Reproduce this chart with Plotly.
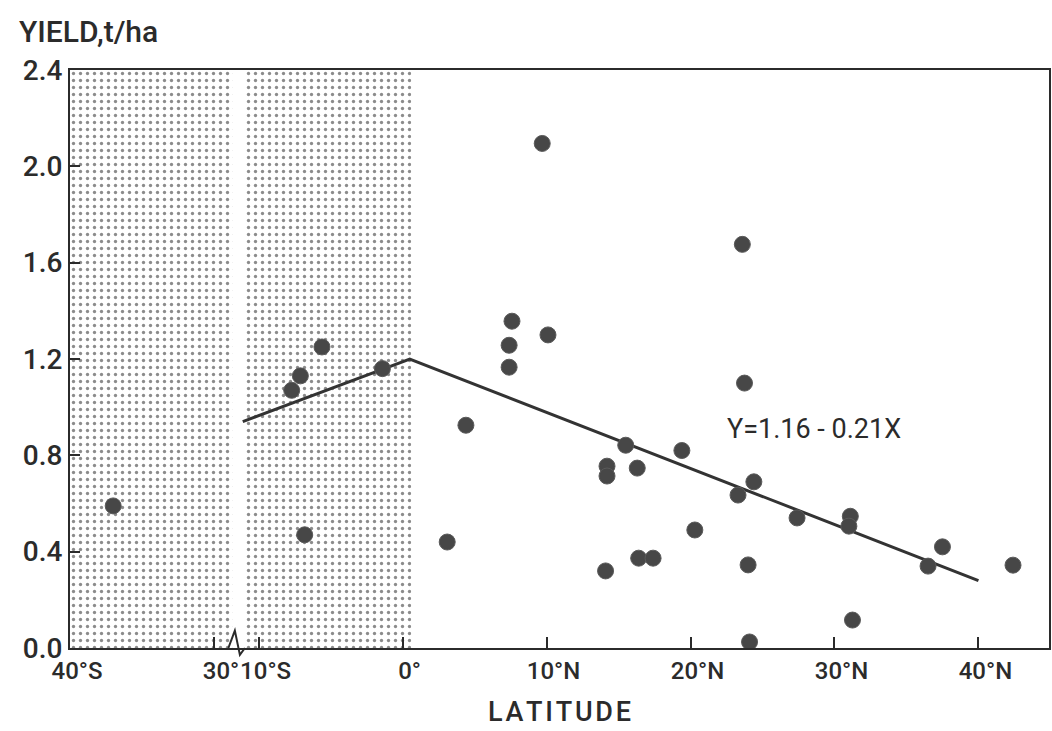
import plotly.graph_objects as go

# ---- data (latitude in degrees, negative = south; yield in t/ha) ----
lat = [-37.0, -7.7, -7.1, -5.6, -1.4, -6.8,
       3.1, 4.4, 9.7, 7.6, 7.4, 7.4, 10.1,
       23.6, 23.75, 15.5, 19.4, 14.2, 14.2, 16.3,
       24.4, 23.3, 27.4, 31.1, 31.0, 37.5, 36.5, 42.4,
       20.3, 14.1, 16.4, 17.4, 24.0, 31.25, 24.1]
yld = [0.59, 1.07, 1.13, 1.25, 1.16, 0.47,
       0.44, 0.925, 2.095, 1.357, 1.257, 1.166, 1.30,
       1.676, 1.10, 0.842, 0.82, 0.755, 0.714, 0.747,
       0.69, 0.635, 0.54, 0.547, 0.506, 0.42, 0.34, 0.344,
       0.49, 0.32, 0.373, 0.373, 0.345, 0.116, 0.025]

fit_lat = [-11.1, 0.5, 40.0]
fit_yld = [0.94, 1.20, 0.28]

tick_lat = [-40, -30, -10, 0, 10, 20, 30, 40]
tick_text = ["40°S", "30°", "10°S", "0°", "10°N", "20°N", "30°N", "40°N"]
y_ticks = [0.0, 0.4, 0.8, 1.2, 1.6, 2.0, 2.4]
y_text = ["0.0", "0.4", "0.8", "1.2", "1.6", "2.0", "2.4"]

equation = "Y=1.16 - 0.21X"
x_title = "\u200aL\u200aA\u200aT\u200aI\u200aT\u200aU\u200aD\u200aE"

# ---- broken latitude axis: the 10°S–30°S stretch is cut out ----
SOUTH_OFFSET = 16.9
BREAK_AT = -11.4
BREAK_GAP = 0.8
X_MIN, X_MAX = -23.1, 44.9
SHADE_END = 0.6


def ax(l):
    return l + SOUTH_OFFSET if l <= -20 else l


FONT = "Roboto"
INK = "#2b2b2b"

fig = go.Figure()

# stippled shading of the southern hemisphere (two panels around the break)
shade_pat = dict(shape=".", size=7, solidity=0.18, fgcolor="#1a1a1a", bgcolor="white")
for x0, x1 in [(X_MIN, BREAK_AT - BREAK_GAP / 2), (BREAK_AT + BREAK_GAP / 2, SHADE_END)]:
    fig.add_trace(go.Scatter(
        x=[x0, x1, x1, x0, x0], y=[0, 0, 2.4, 2.4, 0],
        fill="toself", mode="none", fillpattern=shade_pat,
        fillcolor="white", hoverinfo="skip", showlegend=False))

fig.add_trace(go.Scatter(
    x=[ax(v) for v in fit_lat], y=fit_yld, mode="lines",
    line=dict(color="#333333", width=3), showlegend=False))

fig.add_trace(go.Scatter(
    x=[ax(v) for v in lat], y=yld, mode="markers",
    marker=dict(size=16, color="#474747", line=dict(color="#5a5a5a", width=1)),
    showlegend=False))

fig.add_annotation(x=28.6, y=0.91, text=equation, showarrow=False,
                   font=dict(family=FONT, size=27, color=INK))

fig.add_annotation(xref="paper", yref="paper", x=-0.054, y=1.066,
                   xanchor="left", yanchor="middle", text="YIELD,t/ha",
                   showarrow=False, font=dict(family=FONT, size=30, color=INK, weight=500))

# axis break zig-zag
bx = BREAK_AT
fig.add_shape(type="path", xref="x", yref="paper",
              path=f"M {bx-0.7},0 L {bx-0.25},0.03 L {bx+0.1},-0.012 L {bx+0.45},0.0",
              line=dict(color=INK, width=2))

fig.update_xaxes(range=[X_MIN, X_MAX], tickvals=[ax(v) for v in tick_lat], ticktext=tick_text,
                 ticks="inside", ticklen=11, tickwidth=2, tickcolor=INK, tickangle=0,
                 showline=True, linecolor=INK, linewidth=2, mirror=True,
                 showgrid=False, zeroline=False, ticklabelshift=7, automargin=False,
                 tickfont=dict(family=FONT, size=24, color=INK, weight=500),
                 title=dict(text=x_title, font=dict(family=FONT, size=27, color=INK, weight=500), standoff=18))
fig.update_yaxes(range=[0, 2.4], tickvals=y_ticks, ticktext=y_text,
                 ticks="inside", ticklen=10, tickwidth=2, tickcolor=INK,
                 showline=True, linecolor=INK, linewidth=2, mirror=True,
                 showgrid=False, zeroline=False, automargin=False,
                 tickfont=dict(family=FONT, size=28, color=INK, weight=500))

fig.update_layout(width=1052, height=731, margin=dict(l=70, r=3, t=70, b=83),
                  paper_bgcolor="white", plot_bgcolor="white")

fig.write_html("out.html", config={"displayModeBar": False},
               post_script="document.body.style.margin='0';document.body.style.overflow='hidden';")
